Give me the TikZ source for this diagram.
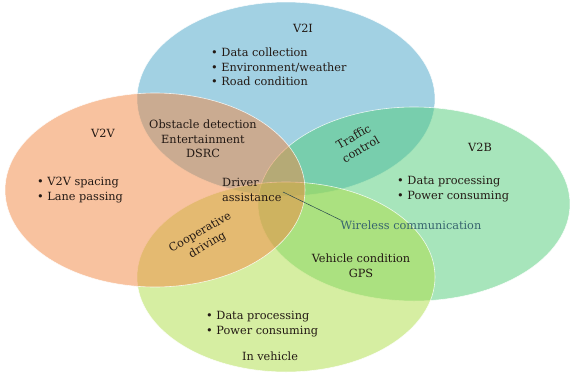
\documentclass[tikz,border=0pt]{standalone}
\usepackage{fontspec}
\setmainfont{DejaVu Serif}
\definecolor{blueC}{RGB}{70,165,200}
\definecolor{orangeC}{RGB}{242,135,65}
\definecolor{greenC}{RGB}{80,205,120}
\definecolor{limeC}{RGB}{175,222,70}
\definecolor{txt}{RGB}{35,25,20}
\definecolor{wire}{RGB}{55,100,110}
\tikzset{
  setblob/.style={fill=#1, fill opacity=0.5, draw=white, draw opacity=0.8, line width=0.6pt},
  lbl/.style={text=txt, font=\fontsize{11.3}{14.5}\selectfont, inner sep=0pt},
  list/.style={lbl, align=left},
  mid/.style={lbl, align=center}
}
\begin{document}
\begin{tikzpicture}[x=1pt,y=-1pt]
\useasboundingbox (0,0) rectangle (570,372);
\fill[white] (0,0) rectangle (570,372);
% sets
\draw[setblob=blueC] (286,99) ellipse [x radius=149, y radius=97];
\draw[setblob=greenC] (414,204) ellipse [x radius=156, y radius=97];
\draw[setblob=limeC] (286,277) ellipse [x radius=149, y radius=95];
\draw[setblob=orangeC] (155,190) ellipse [x radius=150, y radius=97];
% labels
\node[mid] (v2i) at (303,28) {V2I};
\node[list, anchor=west] (v2ilist) at (211,67) {• Data collection\\• Environment/weather\\• Road condition};
\node[mid] (v2v) at (103,133) {V2V};
\node[list, anchor=west] (v2vlist) at (37,190) {• V2V spacing\\• Lane passing};
\node[mid] (obst) at (203,139) {Obstacle detection\\Entertainment\\DSRC};
\node[list, anchor=west] (driver) at (222,190) {Driver\\assistance};
\node[mid, rotate=30] (traffic) at (357,143) {Traffic\\control};
\node[mid] (v2b) at (480,147) {V2B};
\node[list, anchor=west] (v2blist) at (397,189) {• Data processing\\• Power consuming};
\node[lbl, text=wire] (wireless) at (411,225) {Wireless communication};
\node[mid, rotate=30] (coop) at (204,239) {Cooperative\\driving};
\node[mid] (vcond) at (361,266) {Vehicle condition\\GPS};
\node[list, anchor=west] (invlist) at (206,324) {• Data processing\\• Power consuming};
\node[mid] (inv) at (270,356) {In vehicle};
\coordinate (lstart) at (283,192);
\draw[wire!70!black, line width=0.5pt] (lstart) -- ([xshift=1pt]wireless.north west);
\end{tikzpicture}
\end{document}
